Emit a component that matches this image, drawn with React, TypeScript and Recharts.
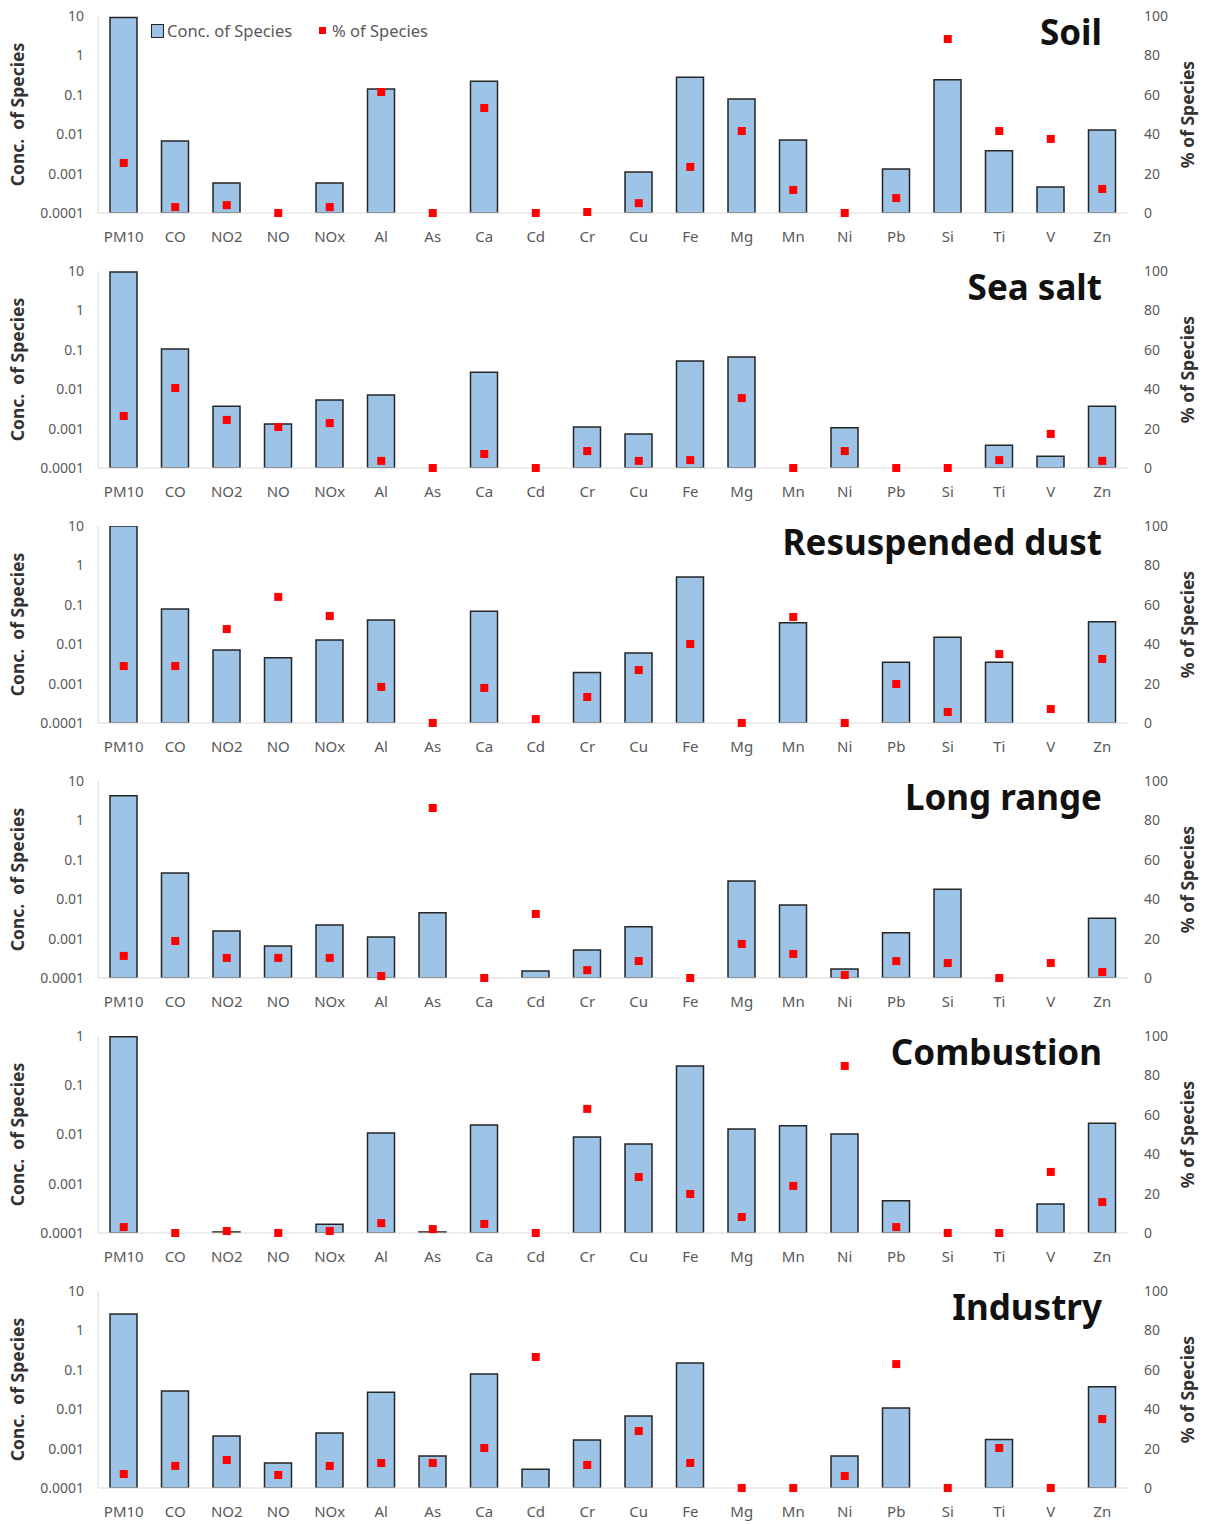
import React from "react";
import {
  ComposedChart, Bar, Scatter, XAxis, YAxis,
} from "recharts";

const categories = [
  "PM10", "CO", "NO2", "NO", "NOx", "Al", "As", "Ca", "Cd", "Cr",
  "Cu", "Fe", "Mg", "Mn", "Ni", "Pb", "Si", "Ti", "V", "Zn",
];

// conc. of species (log axis), null = no bar
const soilConc = [9.2, 0.0067, 0.00058, null, 0.00058, 0.14, null, 0.22, null, null, 0.0011, 0.28, 0.078, 0.0071, null, 0.0013, 0.24, 0.0038, 0.00046, 0.0128];
const soilPct = [25.4, 3, 4, 0, 3, 61.4, 0, 53.3, 0, 0.5, 5, 23.4, 41.6, 11.7, 0, 7.6, 88.3, 41.6, 37.6, 12.2];

const seaConc = [9.4, 0.105, 0.0037, 0.0013, 0.0053, 0.0071, null, 0.027, null, 0.0011, 0.00073, 0.052, 0.066, null, 0.00105, null, null, 0.00038, 0.0002, 0.0037];
const seaPct = [26.4, 40.6, 24.4, 20.8, 22.8, 3.6, 0, 7.1, 0, 8.6, 3.6, 4, 35.5, 0, 8.6, 0, 0, 4, 17.3, 3.6];

const dustConc = [10, 0.078, 0.0071, 0.0045, 0.0128, 0.041, null, 0.069, null, 0.0019, 0.006, 0.51, null, 0.035, null, 0.0035, 0.015, 0.0035, null, 0.037];
const dustPct = [28.9, 28.9, 47.7, 64, 54.3, 18.3, 0, 17.8, 2, 13.2, 26.9, 40.1, 0, 53.8, 0, 19.8, 5.6, 35, 7.1, 32.5];

const longConc = [4.2, 0.046, 0.00156, 0.00065, 0.0022, 0.0011, 0.0045, null, 0.00015, 0.00051, 0.002, null, 0.029, 0.0071, 0.00017, 0.0014, 0.018, null, null, 0.0033];
const longPct = [11.2, 18.8, 10.2, 10.2, 10.2, 1, 86.3, 0, 32.5, 4, 8.6, 0, 17.3, 12.2, 1.5, 8.6, 7.6, 0, 7.6, 3];

const combConc = [0.97, null, 0.000105, null, 0.00015, 0.0107, 0.000105, 0.0156, null, 0.0089, 0.0064, 0.245, 0.013, 0.015, 0.0102, 0.00045, null, null, 0.00039, 0.017];
const combPct = [3, 0, 1, 0, 1, 5, 2, 4.6, 0, 63, 28.4, 19.8, 8.1, 23.9, 84.8, 3, 0, 0, 31, 15.7];

const indConc = [2.6, 0.029, 0.0021, 0.00043, 0.0025, 0.027, 0.00065, 0.078, 0.0003, 0.00166, 0.0067, 0.148, null, null, 0.00065, 0.0107, null, 0.0017, null, 0.037];
const indPct = [7.1, 11.2, 14.2, 6.6, 11.2, 12.7, 12.7, 20.3, 66.5, 11.7, 28.9, 12.7, 0, 0, 6.1, 62.9, 0, 20.3, 0, 35];

const ticks10 = [0.0001, 0.001, 0.01, 0.1, 1, 10];
const ticks1 = [0.0001, 0.001, 0.01, 0.1, 1];
const pctTicks = [0, 20, 40, 60, 80, 100];

const panels = [
  { title: "Soil", conc: soilConc, pct: soilPct, ticks: ticks10 },
  { title: "Sea salt", conc: seaConc, pct: seaPct, ticks: ticks10 },
  { title: "Resuspended dust", conc: dustConc, pct: dustPct, ticks: ticks10 },
  { title: "Long range", conc: longConc, pct: longPct, ticks: ticks10 },
  { title: "Combustion", conc: combConc, pct: combPct, ticks: ticks1 },
  { title: "Industry", conc: indConc, pct: indPct, ticks: ticks10 },
];

const FONT = "'Noto Sans', sans-serif";
const tickStyle = { fill: "#595959", fontSize: 14, fontFamily: FONT };
const axisTitle = { textAnchor: "middle", fontFamily: FONT, fontWeight: 700, fontSize: 17.5, fill: "#333" };
const BAR_FILL = "#9DC3E6";
const RED = "#FF0000";

const Square = (p: any) => {
  if (p.cx == null || p.cy == null) return null;
  return <rect x={p.cx - 4} y={p.cy - 4} width={8} height={8} fill={RED} />;
};

function Panel({ title, conc, pct, ticks, showLegend }: any) {
  const data = categories.map((name, i) => ({ name, conc: conc[i], pct: pct[i] }));
  return (
    <div style={{ position: "relative", width: 1207, height: 255 }}>
      <ComposedChart width={1207} height={255} data={data} margin={{ top: 16, right: 0, bottom: 0, left: 0 }}>
        <XAxis dataKey="name" interval={0} tickLine={false} height={42} tickMargin={12}
          axisLine={{ stroke: "#D9D9D9" }} tick={{ ...tickStyle, fontSize: 15 }} />
        <YAxis yAxisId="left" scale="log" domain={[ticks[0], ticks[ticks.length - 1]]} ticks={ticks}
          allowDataOverflow width={98} tickLine={false} tickMargin={8} axisLine={{ stroke: "#D9D9D9" }}
          tick={tickStyle} tickFormatter={(v: number) => String(v)}
          label={{ value: "Conc.\u00A0\u00A0of Species", angle: -90, position: "insideLeft", offset: 18, style: axisTitle }} />
        <YAxis yAxisId="right" orientation="right" domain={[0, 100]} ticks={pctTicks} width={79}
          tickLine={false} axisLine={false} tickMargin={10} tick={tickStyle}
          label={{ value: "% of Species", angle: -90, position: "insideRight", offset: 19, style: axisTitle }} />
        <Bar yAxisId="left" dataKey="conc" barSize={27} fill={BAR_FILL} stroke="#262626" strokeWidth={1.5}
          isAnimationActive={false} />
        <Scatter yAxisId="right" dataKey="pct" shape={Square} isAnimationActive={false} />
      </ComposedChart>
      <div style={{ position: "absolute", right: 105, top: 14, fontFamily: FONT, fontWeight: 700,
        fontSize: 35, lineHeight: "36px", color: "#111" }}>{title}</div>
      {showLegend && (
        <div style={{ position: "absolute", left: 151, top: 19, display: "flex", alignItems: "center",
          fontFamily: FONT, fontSize: 16.5, color: "#595959" }}>
          <span style={{ display: "inline-block", width: 11, height: 12, background: BAR_FILL,
            border: "1px solid #262626", marginRight: 3 }} />
          <span>Conc. of Species</span>
          <span style={{ display: "inline-block", width: 7, height: 7, background: RED,
            marginLeft: 27, marginRight: 6 }} />
          <span>% of Species</span>
        </div>
      )}
    </div>
  );
}

export default function App() {
  return (
    <div style={{ position: "absolute", left: 0, top: 0, width: 1207, height: 1524, background: "#fff" }}>
      {panels.map((p, i) => (
        <Panel key={p.title} {...p} showLegend={i === 0} />
      ))}
    </div>
  );
}
